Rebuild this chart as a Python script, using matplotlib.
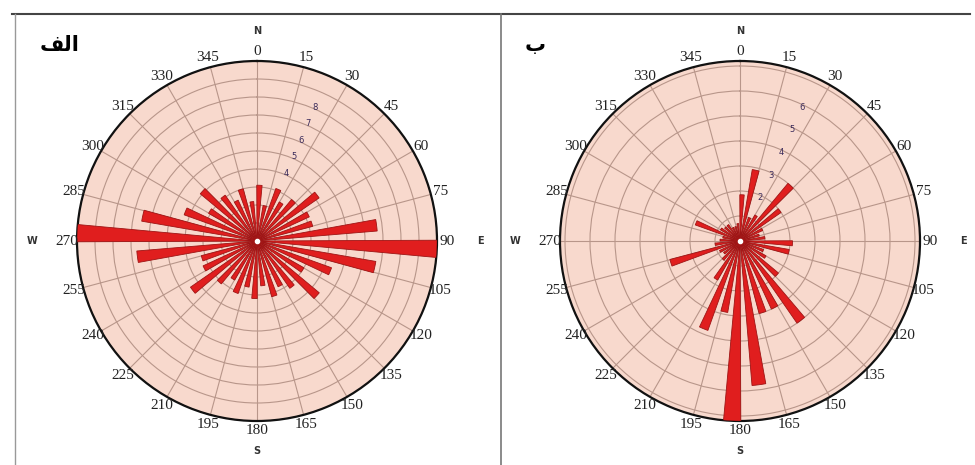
import numpy as np
import matplotlib.pyplot as plt

# bin centres (degrees) and bar lengths for the two rose diagrams
bins = np.arange(0, 360, 10) + 2.5
rose_a = [3.1, 2.0, 3.1, 2.5, 3.0, 4.2, 3.2, 3.2, 6.7, 10.0, 6.7, 4.4,
          3.0, 4.5, 3.2, 2.8, 3.2, 2.5, 3.2, 2.6, 3.1, 2.5, 3.1, 4.5,
          3.3, 3.2, 6.7, 10.0, 6.5, 4.3, 3.1, 4.1, 3.1, 2.5, 3.0, 2.2]
rose_b = [1.85, 2.9, 1.0, 1.2, 3.0, 2.0, 1.0, 0.8, 1.0, 2.1, 2.0, 1.0,
          1.2, 2.0, 4.0, 3.0, 3.0, 5.8, 7.2, 2.9, 3.8, 1.8, 1.0, 0.8,
          0.9, 2.9, 1.0, 0.8, 0.7, 1.9, 0.9, 0.8, 0.8, 0.6, 0.6, 0.7]
rmax_a, rmax_b = 10, 7.2
ring_labels_a = [4, 5, 6, 7, 8]
ring_labels_b = [2, 3, 4, 5, 6]
angle_labels = [str(a) for a in range(0, 360, 15)]

# shaped arabic panel titles (presentation forms, visual order)
title_a = "\uFED2\uFEDF\uFE8D"
title_b = "\uFE8F"

fig = plt.figure(figsize=(9.75, 4.65), dpi=100)
fig.patch.set_facecolor('white')

# panel frame lines
fig.add_artist(plt.Line2D([12/975, 970/975], [1-14/465, 1-14/465], color='#444444', lw=1.5))
fig.add_artist(plt.Line2D([15/975, 15/975], [0, 1-14/465], color='#999999', lw=1.0))
fig.add_artist(plt.Line2D([501/975, 501/975], [0, 1-14/465], color='#777777', lw=1.2))

fig.text(40/975, 1-45/465, title_a, fontsize=15, fontweight='bold', family='DejaVu Sans',
         ha='left', va='center')
fig.text(525/975, 1-45/465, title_b, fontsize=15, fontweight='bold', family='DejaVu Sans',
         ha='left', va='center')


def draw_rose(cx, values, rmax, ring_labels, ring_angle, ring_off):
    ax = fig.add_axes([(cx-180)/975, 44/465, 360/975, 360/465], projection='polar')
    ax.set_theta_zero_location('N')
    ax.set_theta_direction(-1)
    ax.set_facecolor('#f8d9cd')
    ax.set_ylim(0, rmax)
    ax.set_thetagrids(np.arange(0, 360, 15), [''] * 24)
    ax.set_rgrids(np.arange(1, int(rmax) + 1), [''] * int(rmax))
    ax.grid(color='#b8968a', lw=0.8)
    ax.spines['polar'].set_linewidth(1.6)
    ax.spines['polar'].set_color('#111111')
    ax.tick_params(length=0)

    ax.bar(np.deg2rad(bins), values, width=np.deg2rad(5.5), bottom=0,
           color='#e01e1e', edgecolor='#9e1515', linewidth=0.6, zorder=3)
    ax.plot(0, 0, 'o', color='white', ms=3, zorder=4)

    for a, lab in zip(range(0, 360, 15), angle_labels):
        ax.text(np.deg2rad(a), rmax * 1.055, lab, ha='center', va='center',
                fontsize=11, family='Liberation Serif', color='#222222', clip_on=False)
    ax.text(0, rmax * 1.165, 'N', ha='center', va='center', fontsize=7,
            fontweight='bold', color='#333333', clip_on=False)
    ax.text(np.pi, rmax * 1.165, 'S', ha='center', va='center', fontsize=7,
            fontweight='bold', color='#333333', clip_on=False)
    ax.text(np.pi / 2, rmax * 1.24, 'E', ha='center', va='center', fontsize=7,
            fontweight='bold', color='#333333', clip_on=False)
    ax.text(3 * np.pi / 2, rmax * 1.25, 'W', ha='center', va='center', fontsize=7,
            fontweight='bold', color='#333333', clip_on=False)

    for v in ring_labels:
        ax.text(np.deg2rad(ring_angle), v + ring_off, str(v), ha='center', va='center',
                fontsize=6, color='#3a2a5a', zorder=5)
    return ax


draw_rose(257, rose_a, rmax_a, ring_labels_a, 23.5, 0.1)
draw_rose(740, rose_b, rmax_b, ring_labels_b, 25, -0.1)

fig.savefig('out.png', dpi=100)
